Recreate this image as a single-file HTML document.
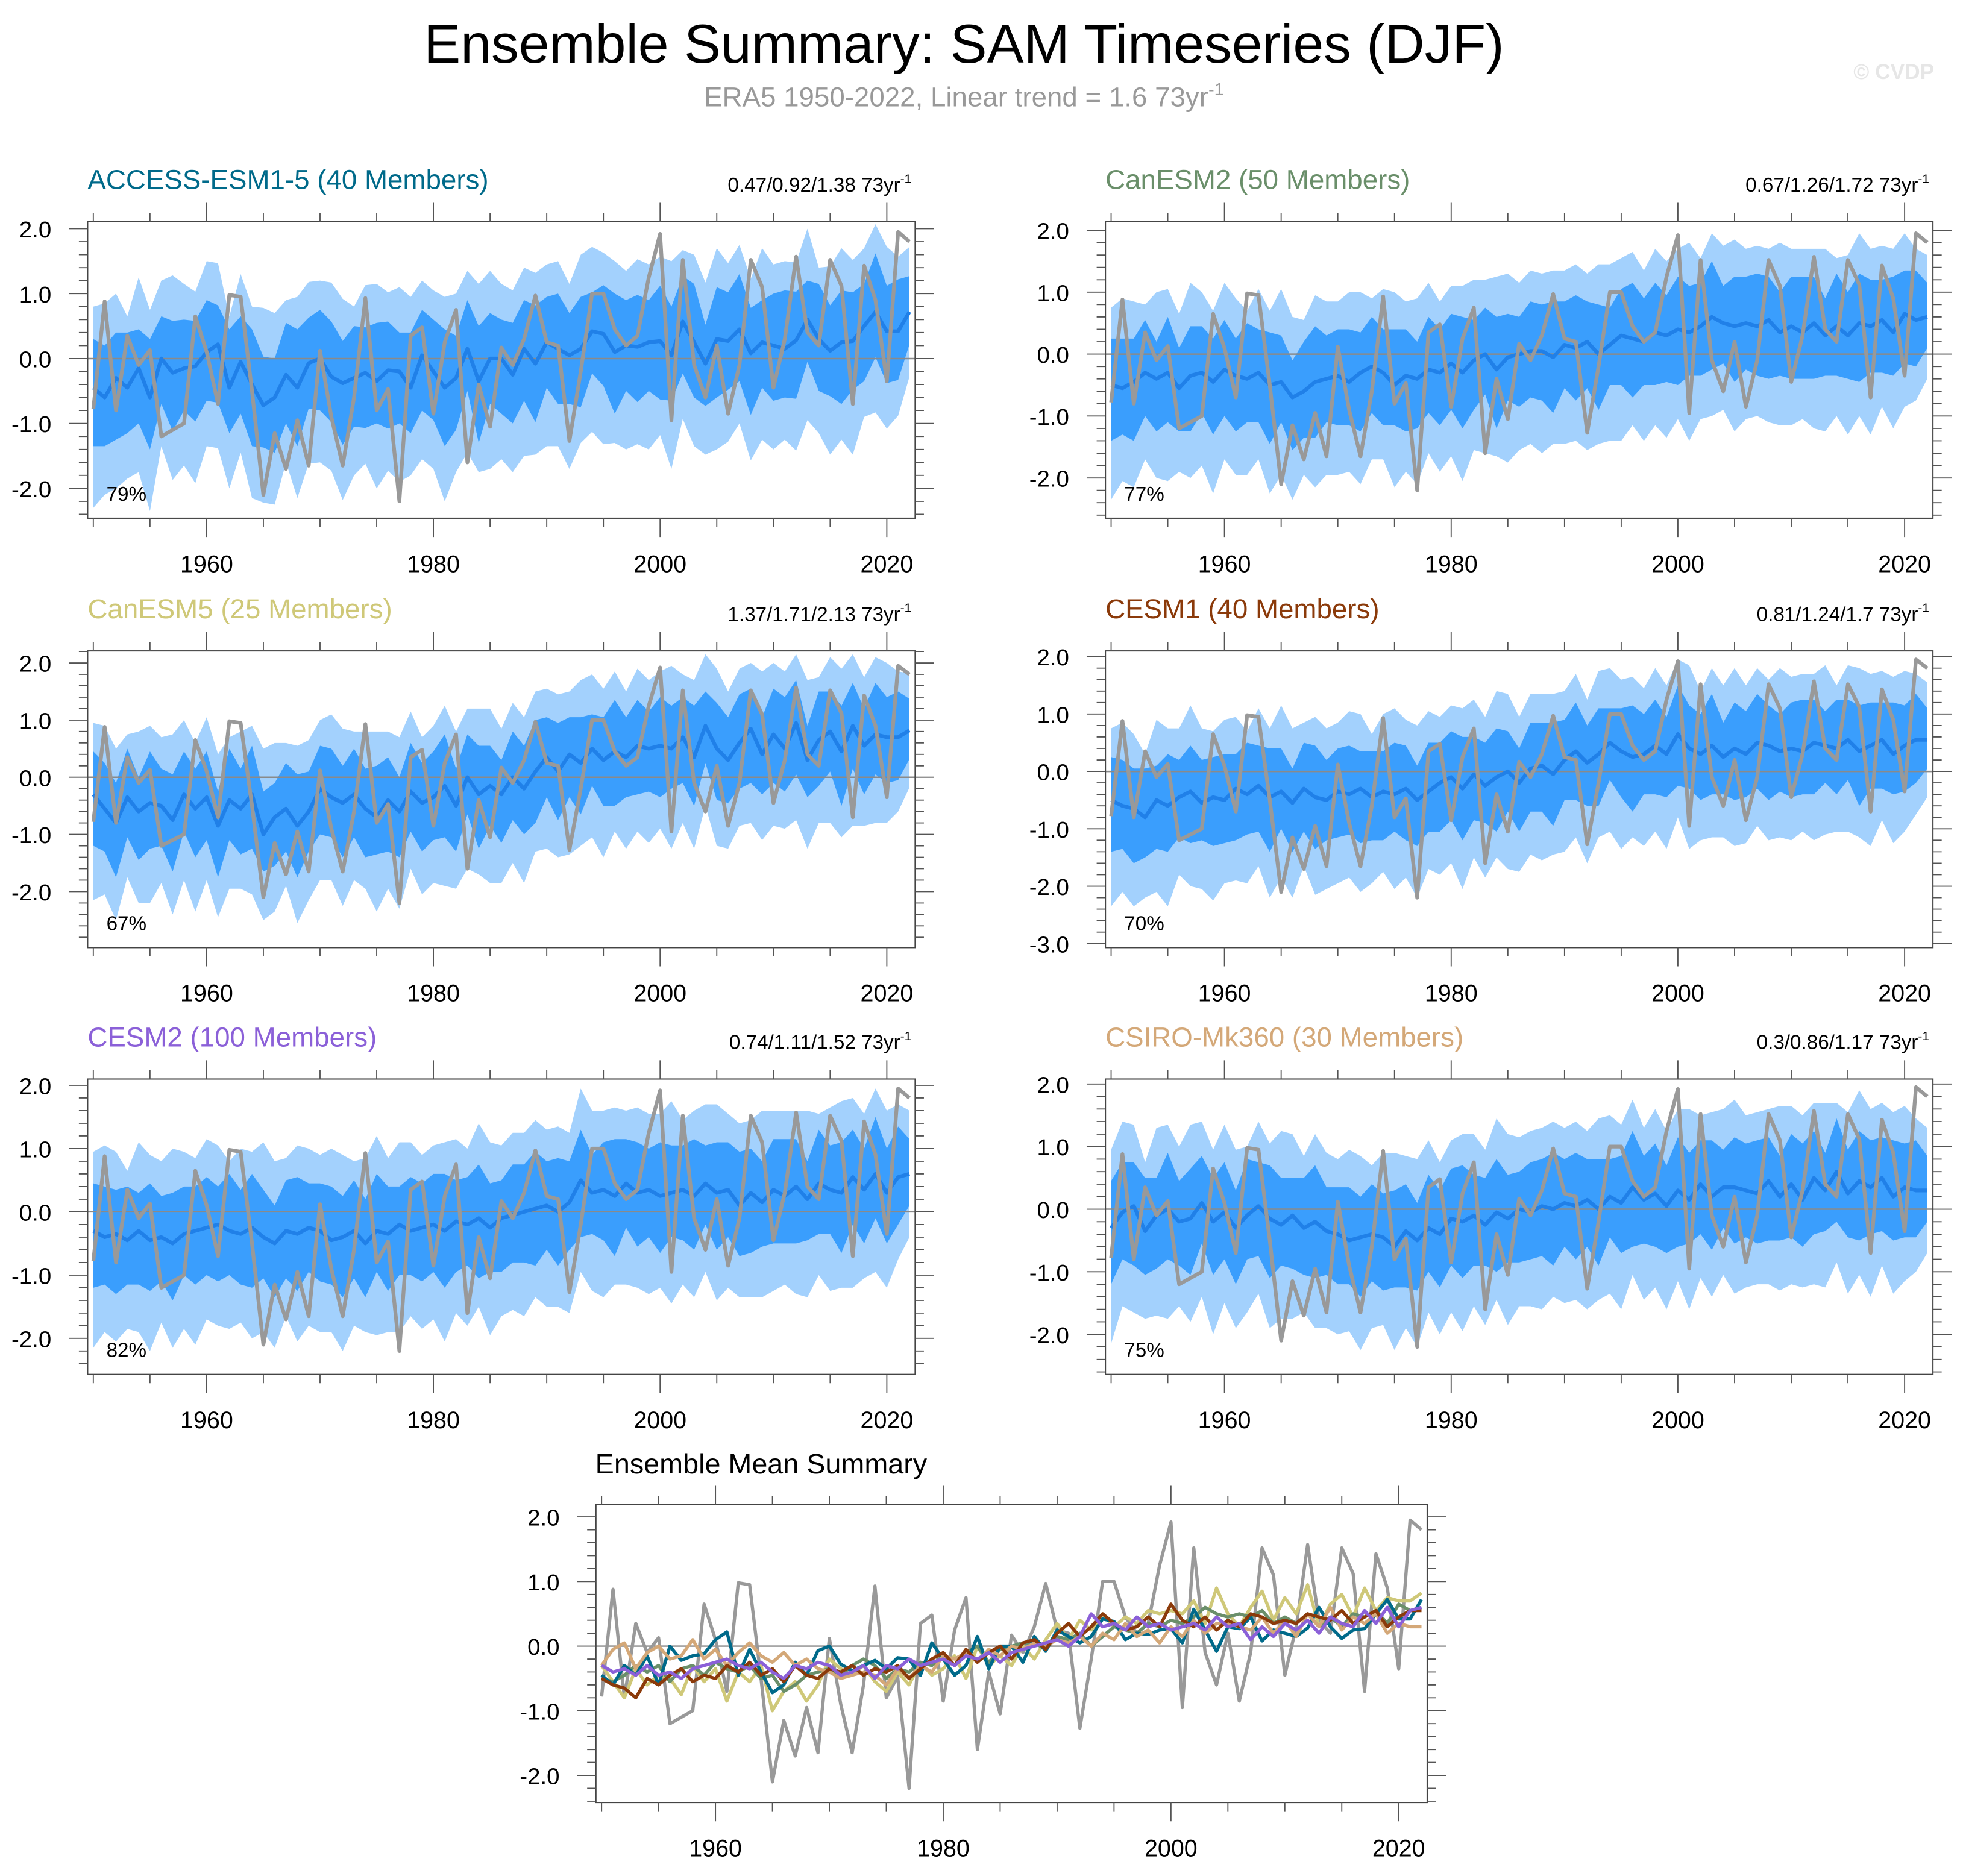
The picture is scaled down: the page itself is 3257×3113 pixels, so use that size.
<!DOCTYPE html>
<html><head><meta charset="utf-8">
<style>
html,body{margin:0;padding:0;background:#fff;}
svg{display:block;font-family:"Liberation Sans",sans-serif;}
</style></head>
<body>
<svg id="fig" xmlns="http://www.w3.org/2000/svg" width="3257" height="3113" viewBox="0 0 1568 1498.7">
<rect x="0" y="0" width="1568" height="1499" fill="#fff"/>
<text x="770" y="50" text-anchor="middle" font-size="44" fill="#000">Ensemble Summary: SAM Timeseries (DJF)</text>
<text x="770" y="85" text-anchor="middle" font-size="22" fill="#999">ERA5 1950-2022, Linear trend = 1.6 73yr<tspan dy="-9" font-size="14">-1</tspan></text>
<text x="1545" y="63" text-anchor="end" font-size="17" font-weight="bold" fill="#e6e6e6">© CVDP</text>
<g id="plots"></g>
</svg>
<script>
const years = [];
for (let y = 1950; y <= 2022; y++) years.push(y);
const obsERA5 = [-0.78,0.88,-0.8,0.35,-0.1,0.13,-1.2,-1.1,-1.0,0.65,
0.1,-0.7,0.98,0.95,-0.5,-2.1,-1.15,-1.7,-0.95,-1.65,
0.12,-0.9,-1.65,-0.6,0.93,-0.8,-0.47,-2.2,0.35,0.48,
-0.85,0.25,0.75,-1.6,-0.4,-1.05,0.17,-0.1,0.3,0.97,
0.25,0.2,-1.27,-0.2,1.0,1.0,0.45,0.2,0.35,1.25,
1.92,-0.95,1.52,-0.1,-0.6,0.2,-0.85,-0.1,1.52,1.1,
-0.45,0.3,1.57,0.4,0.2,1.52,1.12,-0.7,1.43,0.9,
-0.35,1.95,1.8];
const meanACCESS = [-0.45,-0.6,-0.3,-0.45,-0.15,-0.6,0.0,-0.22,-0.15,-0.12,
0.1,0.22,-0.45,-0.05,-0.4,-0.72,-0.6,-0.25,-0.45,-0.07,
0.0,-0.28,-0.38,-0.3,-0.22,-0.35,-0.18,-0.2,-0.45,0.05,
-0.2,-0.45,-0.3,0.15,-0.35,0.0,0.0,-0.25,0.15,-0.08,
0.25,0.15,0.05,0.15,0.42,0.38,0.1,0.2,0.18,0.25,
0.27,0.05,0.57,0.25,-0.08,0.3,0.27,0.45,0.08,0.25,
0.2,0.15,0.28,0.6,0.3,0.12,0.25,0.27,0.5,0.72,
0.42,0.42,0.72];
const meanCanESM2 = [-0.5,-0.55,-0.45,-0.3,-0.4,-0.3,-0.55,-0.35,-0.3,-0.45,
-0.25,-0.35,-0.4,-0.3,-0.5,-0.45,-0.7,-0.6,-0.45,-0.4,
-0.35,-0.45,-0.3,-0.2,-0.3,-0.5,-0.35,-0.4,-0.25,-0.3,
-0.15,-0.3,-0.1,0.0,-0.25,-0.05,0.0,0.05,0.05,-0.05,
0.15,0.1,0.2,0.0,0.15,0.3,0.25,0.2,0.35,0.3,
0.4,0.35,0.45,0.6,0.5,0.45,0.5,0.45,0.55,0.35,
0.45,0.35,0.5,0.3,0.45,0.3,0.5,0.45,0.55,0.35,
0.65,0.55,0.6];
const meanCanESM5 = [-0.3,-0.55,-0.8,-0.35,-0.6,-0.45,-0.5,-0.75,-0.3,-0.55,
-0.35,-0.85,-0.4,-0.55,-0.3,-1.0,-0.7,-0.55,-0.85,-0.6,
-0.2,-0.35,-0.45,-0.3,-0.55,-0.7,-0.4,-0.6,-0.25,-0.45,
-0.35,-0.15,-0.5,0.0,-0.3,-0.15,-0.3,0.0,-0.2,0.1,
0.35,0.1,0.4,0.25,0.5,0.3,0.45,0.35,0.55,0.5,
0.55,0.5,0.7,0.35,0.9,0.5,0.3,0.6,0.85,0.4,
0.75,0.5,0.95,0.3,0.65,0.8,0.45,0.9,0.55,0.75,
0.7,0.7,0.82];
const meanCESM1 = [-0.5,-0.6,-0.65,-0.8,-0.5,-0.6,-0.45,-0.35,-0.55,-0.45,
-0.5,-0.3,-0.4,-0.25,-0.45,-0.35,-0.55,-0.3,-0.45,-0.5,
-0.35,-0.4,-0.3,-0.45,-0.35,-0.4,-0.3,-0.5,-0.35,-0.2,
-0.1,-0.3,-0.05,-0.25,-0.1,0.0,-0.2,0.05,0.1,-0.05,
0.2,0.35,0.15,0.3,0.5,0.35,0.25,0.3,0.45,0.3,
0.65,0.4,0.3,0.45,0.25,0.4,0.3,0.5,0.45,0.35,
0.4,0.35,0.5,0.45,0.4,0.55,0.35,0.45,0.55,0.3,
0.45,0.55,0.55];
const meanCESM2 = [-0.3,-0.4,-0.35,-0.45,-0.3,-0.45,-0.4,-0.5,-0.35,-0.3,
-0.25,-0.2,-0.3,-0.35,-0.25,-0.4,-0.5,-0.3,-0.35,-0.25,
-0.3,-0.45,-0.4,-0.3,-0.5,-0.3,-0.35,-0.2,-0.3,-0.25,
-0.2,-0.3,-0.15,-0.2,-0.1,-0.25,-0.1,-0.05,0.0,0.05,
0.1,0.0,0.15,0.5,0.3,0.35,0.25,0.45,0.3,0.35,
0.25,0.3,0.35,0.25,0.45,0.3,0.35,0.1,0.3,0.15,
0.35,0.25,0.4,0.2,0.45,0.35,0.3,0.55,0.35,0.6,
0.3,0.55,0.6];
const meanCSIRO = [-0.3,-0.05,0.05,-0.35,-0.1,0.0,-0.2,-0.15,0.1,-0.2,
-0.05,-0.3,-0.1,0.05,-0.15,-0.25,-0.1,-0.3,-0.2,-0.35,
-0.4,-0.5,-0.45,-0.4,-0.45,-0.6,-0.35,-0.5,-0.3,-0.4,
-0.15,-0.2,-0.1,-0.25,-0.05,-0.15,0.0,-0.05,0.05,0.0,
0.1,0.05,0.15,0.0,0.2,0.1,0.35,0.15,0.25,0.05,
0.3,0.15,0.4,0.2,0.35,0.35,0.3,0.25,0.45,0.2,
0.4,0.15,0.5,0.3,0.6,0.25,0.45,0.35,0.5,0.2,
0.35,0.3,0.3];
const innerUp = [0.75,0.8,0.7,0.85,0.6,0.9,0.65,0.8,0.75,0.7,
0.8,0.6,0.9,0.7,0.85,0.75,0.6,0.8,0.9,0.7,
0.75,0.85,0.65,0.8,0.7,0.9,0.75,0.6,0.85,0.7,
0.8,0.9,0.65,0.75,0.85,0.7,0.6,0.8,0.75,0.9,
0.7,0.85,0.65,0.8,0.6,0.75,0.9,0.7,0.8,0.65,
0.85,0.75,0.7,0.9,0.6,0.8,0.75,0.85,0.7,0.65,
0.8,0.9,0.75,0.6,0.85,0.7,0.8,0.75,0.65,0.9,
0.7,0.8,0.55];
const innerDn = [0.9,0.75,0.95,0.7,0.85,0.8,0.7,0.9,0.65,0.85,
0.75,0.9,0.7,0.8,0.95,0.65,0.85,0.75,0.9,0.7,
0.8,0.7,0.95,0.75,0.85,0.65,0.9,0.8,0.7,0.85,
0.75,0.9,0.8,0.65,0.95,0.7,0.85,0.75,0.8,0.9,
0.7,0.85,0.75,0.9,0.65,0.8,0.95,0.7,0.85,0.75,
0.9,0.7,0.8,0.85,0.65,0.9,0.75,0.8,0.95,0.7,
0.85,0.75,0.9,0.65,0.8,0.7,0.95,0.75,0.85,0.7,
0.8,0.75,0.5];
const outerUp = [1.25,1.45,1.3,1.1,1.4,1.35,1.2,1.5,1.3,1.15,
1.4,1.25,1.1,1.35,1.2,1.5,1.3,1.15,1.4,1.25,
1.2,1.45,1.3,1.1,1.35,1.5,1.2,1.3,1.4,1.15,
1.25,1.4,1.3,1.2,1.5,1.35,1.15,1.3,1.25,1.4,
1.2,1.35,1.1,1.45,1.3,1.25,1.4,1.15,1.35,1.2,
1.3,1.45,1.1,1.35,1.25,1.4,1.2,1.3,1.15,1.45,
1.25,1.35,1.2,1.4,1.1,1.3,1.45,1.25,1.2,1.35,
1.3,1.15,1.0];
const outerDn = [1.85,1.5,1.7,1.4,1.6,1.75,1.35,1.65,1.5,1.8,
1.45,1.6,1.55,1.4,1.75,1.5,1.65,1.35,1.7,1.55,
1.6,1.45,1.8,1.5,1.4,1.65,1.55,1.7,1.35,1.6,
1.5,1.75,1.45,1.6,1.4,1.7,1.55,1.5,1.65,1.4,
1.6,1.5,1.75,1.45,1.55,1.7,1.4,1.6,1.5,1.65,
1.45,1.75,1.5,1.6,1.4,1.7,1.55,1.45,1.65,1.5,
1.6,1.4,1.7,1.55,1.45,1.6,1.5,1.75,1.4,1.55,
1.5,1.3,1.0];
const modelNames = ["ACCESS-ESM1-5 (40 Members)","CanESM2 (50 Members)","CanESM5 (25 Members)","CESM1 (40 Members)","CESM2 (100 Members)","CSIRO-Mk360 (30 Members)"];
const trendLabels = ["0.47/0.92/1.38","0.67/1.26/1.72","1.37/1.71/2.13","0.81/1.24/1.7","0.74/1.11/1.52","0.3/0.86/1.17"];
const pctLabels = ["79%","77%","67%","70%","82%","75%"];
const xTickLabels = [1960,1980,2000,2020];
const modelMeans = [meanACCESS,meanCanESM2,meanCanESM5,meanCESM1,meanCESM2,meanCSIRO];

const NS = "http://www.w3.org/2000/svg";
const root = document.getElementById("plots");
const colors = ["#006a8a","#6a8f6a","#cfc878","#8b3a0a","#8b60d8","#d4a878"];
const panels = [
 {x0:70,x1:731,y0:177,y1:414,ymin:-2.46,ymax:2.11,yt:[-2,-1,0,1,2]},
 {x0:883,x1:1544,y0:177,y1:414,ymin:-2.65,ymax:2.14,yt:[-2,-1,0,1,2]},
 {x0:70,x1:731,y0:520,y1:757,ymin:-2.98,ymax:2.21,yt:[-2,-1,0,1,2]},
 {x0:883,x1:1544,y0:520,y1:757,ymin:-3.07,ymax:2.1,yt:[-3,-2,-1,0,1,2]},
 {x0:70,x1:731,y0:862,y1:1098,ymin:-2.57,ymax:2.1,yt:[-2,-1,0,1,2]},
 {x0:883,x1:1544,y0:862,y1:1098,ymin:-2.64,ymax:2.08,yt:[-2,-1,0,1,2]}
];
function mk(tag, attrs, parent){
  const e = document.createElementNS(NS, tag);
  for (const k in attrs) e.setAttribute(k, attrs[k]);
  parent.appendChild(e);
  return e;
}
function axes(p, g){
  const sx = v => p.x0 + (v - 1949.5) / 73 * (p.x1 - p.x0);
  const sy = v => p.y1 - (v - p.ymin) / (p.ymax - p.ymin) * (p.y1 - p.y0);
  return {sx, sy};
}
function drawFrame(p, g, sx, sy){
  const z = mk("line",{x1:p.x0,x2:p.x1,y1:sy(0),y2:sy(0),stroke:"#8a8a8a","stroke-width":1.2},g);
  
  
  const box = mk("rect",{x:p.x0,y:p.y0,width:p.x1-p.x0,height:p.y1-p.y0,fill:"none",stroke:"#444","stroke-width":1},g);
  
  
  let d = "";
  for (let y = 1950; y <= 2022; y += 5){
    const L = (y % 20 === 0) ? 15 : 7;
    const x = sx(y);
    d += `M${x} ${p.y0}v${-L}M${x} ${p.y1}v${L}`;
  }
  for (let k = Math.ceil(p.ymin*5); k <= Math.floor(p.ymax*5); k++){
    const v = k/5, L = (k % 5 === 0) ? 15 : 7, y = sy(v);
    d += `M${p.x0} ${y}h${-L}M${p.x1} ${y}h${L}`;
  }
  const t = mk("path",{d:d,stroke:"#555","stroke-width":0.9,fill:"none"},g);
  
  
  xTickLabels.forEach(v => {
    const tx = mk("text",{x:sx(v),y:p.y1+43,"text-anchor":"middle","font-size":19,fill:"#000"},g);
    tx.textContent = v;
    
    
  });
  p.yt.forEach(v => {
    const ty = mk("text",{x:p.x0-29,y:sy(v)+7,"text-anchor":"end","font-size":18.5,fill:"#000"},g);
    ty.textContent = v.toFixed(1);
    
    
  });
}
function linePath(arr, sx, sy){
  return arr.map((v,i) => (i?"L":"M") + sx(years[i]).toFixed(2) + " " + sy(v).toFixed(2)).join("");
}
function bandPath(mean, up, dn, scale, sx, sy){
  let top = "", bot = "";
  for (let i = 0; i < years.length; i++){
    top += (i?"L":"M") + sx(years[i]).toFixed(2) + " " + sy(mean[i] + (up[i]||0.7)*scale).toFixed(2);
  }
  for (let i = years.length-1; i >= 0; i--){
    bot += "L" + sx(years[i]).toFixed(2) + " " + sy(mean[i] - (dn[i]||0.7)*scale).toFixed(2);
  }
  return top + bot + "Z";
}
panels.forEach((p, idx) => {
  const g = mk("g",{},root);
  
  
  const {sx, sy} = axes(p, g);
  const m = modelMeans[idx];
  const ob = mk("path",{d:bandPath(m, outerUp, outerDn, 1, sx, sy),fill:"#a3d1fd"},g);
  
  
  const ib = mk("path",{d:bandPath(m, innerUp, innerDn, 1, sx, sy),fill:"#3a9efd"},g);
  
  
  drawFrame(p, g, sx, sy);
  const ml = mk("path",{d:linePath(m, sx, sy),fill:"none",stroke:"#2080e8","stroke-width":3,"stroke-linejoin":"round"},g);
  
  
  const ol = mk("path",{d:linePath(obsERA5, sx, sy),fill:"none",stroke:"#999","stroke-width":3,"stroke-linejoin":"round"},g);
  
  
  const ti = mk("text",{x:p.x0,y:p.y0-26,"font-size":22,fill:colors[idx]},g);
  ti.textContent = modelNames[idx];
  
  
  const tr = mk("text",{x:p.x1-3,y:p.y0-24,"text-anchor":"end","font-size":16,fill:"#000"},g);
  tr.textContent = trendLabels[idx] + " 73yr";
  const sup = mk("tspan",{dy:-7,"font-size":10},tr);
  sup.textContent = "-1";
  
  
  const pc = mk("text",{x:p.x0+15,y:p.y1-14,"font-size":16,fill:"#000"},g);
  pc.textContent = pctLabels[idx];
  
  
});
// Ensemble mean summary
const bp = {x0:476,x1:1140,y0:1202,y1:1440,ymin:-2.42,ymax:2.19,yt:[-2,-1,0,1,2]};
const bg = mk("g",{},root);


const B = axes(bp, bg);
drawFrame(bp, bg, B.sx, B.sy);
const bo = mk("path",{d:linePath(obsERA5, B.sx, B.sy),fill:"none",stroke:"#999","stroke-width":2.6,"stroke-linejoin":"round"},bg);


[2,1,0,5,3,4].forEach(i => {
  const l = mk("path",{d:linePath(modelMeans[i], B.sx, B.sy),fill:"none",stroke:colors[i],"stroke-width":2.6,"stroke-linejoin":"round"},bg);
  
  
});
const bt = mk("text",{x:608,y:1177,"text-anchor":"middle","font-size":22.5,fill:"#000"},bg);
bt.textContent = "Ensemble Mean Summary";


</script>
</body></html>
